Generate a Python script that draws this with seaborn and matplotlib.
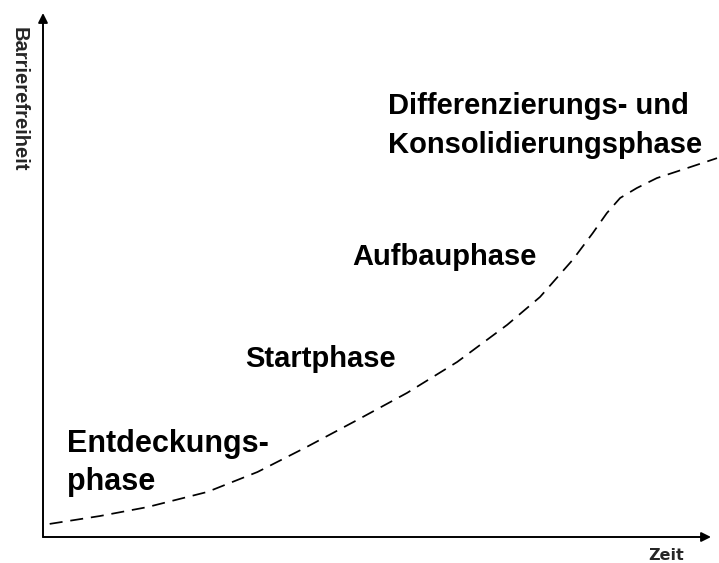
import matplotlib
matplotlib.use("Agg")
import matplotlib.pyplot as plt
import seaborn as sns
import pandas as pd

# Verlauf der Barrierefreiheit ueber die Zeit
zeit = [1.0, 8.5, 15.6, 24.6, 32.1, 39.5, 47.0, 54.5, 62.0, 69.5, 74.4,
        79.3, 82.3, 84.4, 86.4, 88.9, 91.9, 96.9, 100.9]
barrierefreiheit = [2.5, 4.0, 5.7, 8.6, 12.4, 17.2, 22.3, 27.5, 33.4, 40.5,
                    45.8, 52.9, 58.0, 61.8, 64.7, 66.6, 68.5, 70.6, 72.3]

# Phasen (Text) und ihre Lage im Diagramm
phasen = ["Differenzierungs- und", "Konsolidierungsphase", "Aufbauphase",
          "Startphase", "Entdeckungs-", "phase"]
phasen_pos = [(51.6, 80.7), (51.6, 73.3), (46.3, 51.9),
              (30.2, 32.4), (3.6, 16.2), (3.6, 9.0)]
phasen_size = [21, 21, 21, 21, 22, 22]

x_label = "Zeit"
y_label = "Barrierefreiheit"

sns.set_style("white")
plt.rcParams["font.family"] = ["Liberation Sans", "DejaVu Sans"]

df = pd.DataFrame({"zeit": zeit, "barrierefreiheit": barrierefreiheit})

fig = plt.figure(figsize=(7.19, 5.63), dpi=100)
ax = fig.add_axes([43 / 719, 1 - 537 / 563, 668 / 719, 524 / 563])

sns.lineplot(data=df, x="zeit", y="barrierefreiheit", ax=ax, color="black",
             linewidth=1.25, linestyle=(0, (7.5, 4.5)))
for line in ax.lines:
    line.set_clip_on(False)
    line.set_dash_joinstyle("round")

ax.set_xlim(0, 100)
ax.set_ylim(0, 100)
ax.set_xticks([])
ax.set_yticks([])
ax.set_xlabel("")
ax.set_ylabel("")
for s in ax.spines.values():
    s.set_visible(False)

# Achsen als Pfeile
arrow = dict(arrowstyle="-|>", color="black", lw=1.4, mutation_scale=14,
             shrinkA=0, shrinkB=0)
ax.annotate("", xy=(1, 0), xytext=(0, 0), xycoords="axes fraction",
            arrowprops=arrow, annotation_clip=False)
ax.annotate("", xy=(0, 1), xytext=(0, 0), xycoords="axes fraction",
            arrowprops=arrow, annotation_clip=False)

for txt, (tx, ty), fs in zip(phasen, phasen_pos, phasen_size):
    ax.text(tx, ty, txt, fontsize=fs, fontweight="bold", ha="left",
            va="baseline", color="black")

ax.text(90.6, -4.4, x_label, fontsize=11.5, fontweight="bold",
        family=["DejaVu Sans"], ha="left", va="baseline", clip_on=False)
ax.text(-3.6, 97.3, y_label, fontsize=14.5, fontweight="bold", rotation=-90,
        ha="center", va="top", clip_on=False)

fig.savefig("out.png", dpi=100, facecolor="white")
